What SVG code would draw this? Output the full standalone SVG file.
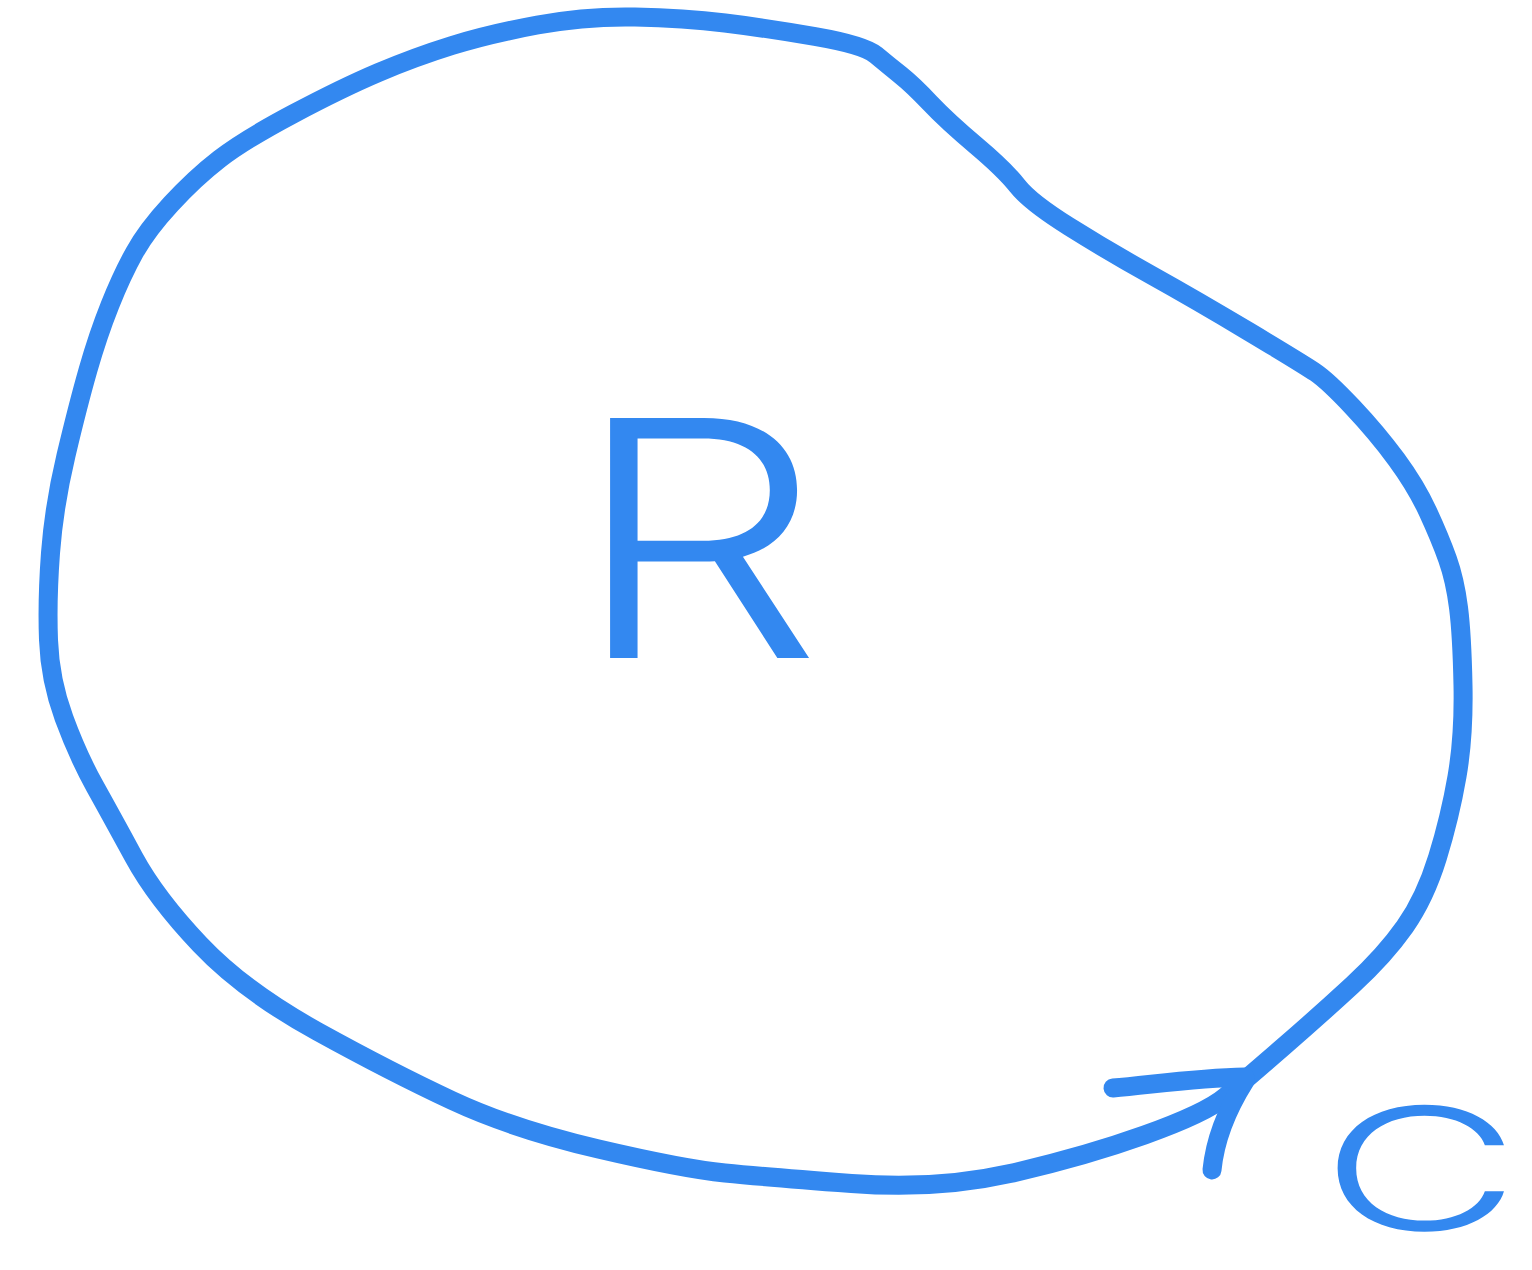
<svg xmlns="http://www.w3.org/2000/svg" width="1532" height="1270" viewBox="0 0 1532 1270">
<style>
.ink{fill:none;stroke:#3388f0;stroke-width:19;stroke-linecap:round;stroke-linejoin:round}
.lbl{fill:#3388f0;font-family:Inter,"Liberation Sans","DejaVu Sans",sans-serif;font-weight:300}
</style>
<rect width="1532" height="1270" fill="#ffffff"/>
<g id="connectors">
<path id="boundary" class="ink" d="M1225.5,1096.5 Q1245,1080 1282.5,1047.5 Q1320,1015 1352.5,985 Q1385,955 1405,926.5 Q1425,898 1437.5,857.5 Q1450,817 1457,776.5 Q1464,736 1463,685.5 Q1462,635 1458.5,607.5 Q1455,580 1447.5,559 Q1440,538 1428,512 Q1416,486 1396.5,459.5 Q1377,433 1352.5,407 Q1328,381 1315.5,372.5 Q1303,364 1249.5,332 Q1196,300 1152,275.5 Q1108,251 1069,226.5 Q1030,202 1017.5,186 Q1005,170 976,145.5 Q947,121 930,103 Q913,85 900.5,75 Q888,65 876,55 Q864,45 815,36.5 Q766,28 725,23 Q684,18 635,17 Q586,16 537.5,25 Q489,34 452,45.5 Q415,57 378.5,72.5 Q342,88 293,114 Q244,140 219.5,159 Q195,178 171,204 Q147,230 134.5,252.5 Q122,275 110,305 Q98,335 88,370 Q78,405 66,455.5 Q54,506 50.5,553 Q47,600 48.5,640 Q50,680 64,718 Q78,756 95,786.5 Q112,817 134,857.5 Q156,898 200,944.5 Q244,991 317.5,1031.5 Q391,1072 452,1100.5 Q513,1129 598.5,1149 Q684,1169 725,1173 Q766,1177 851.5,1183.5 Q937,1190 1010,1173.5 Q1083,1157 1144.5,1135 Q1206,1113 1225.5,1096.5 Z"/>
<path id="arrowhead" class="ink" d="M1113,1088 C1150,1085 1195,1078 1245,1077 M1245,1081 C1228,1108 1215,1140 1212,1170"/>
</g>
<g id="node-R">
<text class="lbl" transform="translate(572,658) scale(1.2,1)" x="0" y="0" font-size="330">R</text>
</g>
<g id="node-C">
<text class="lbl" transform="translate(1320,1230) scale(1.62,1)" x="0" y="0" font-size="170">C</text>
</g>
</svg>
